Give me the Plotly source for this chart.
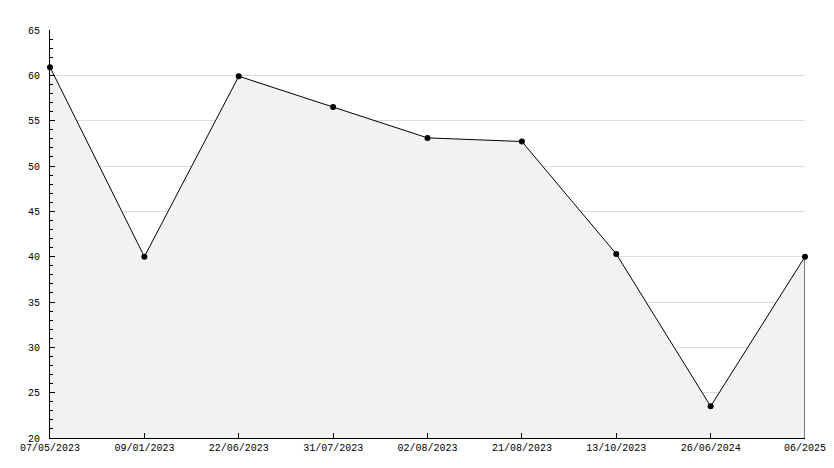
import plotly.graph_objects as go

categories = ["07/05/2023", "09/01/2023", "22/06/2023", "31/07/2023", "02/08/2023",
              "21/08/2023", "13/10/2023", "26/06/2024", "06/2025"]
values = [60.9, 40.0, 59.9, 56.5, 53.1, 52.7, 40.3, 23.5, 40.0]
y_ticks = [20, 25, 30, 35, 40, 45, 50, 55, 60, 65]

xs = list(range(len(categories)))
font = dict(family="Liberation Mono", size=10, color="#000000")

fig = go.Figure()
fig.add_trace(go.Scatter(
    x=xs, y=values, mode="lines+markers", fill="tozeroy",
    fillcolor="#f2f2f2", line=dict(color="#000000", width=1),
    marker=dict(color="#000000", size=6, symbol="circle"),
    hoverinfo="skip", showlegend=False, cliponaxis=False,
))
# closing edge of the area at the last category
fig.add_trace(go.Scatter(
    x=[xs[-1], xs[-1]], y=[values[-1], y_ticks[0]], mode="lines",
    line=dict(color="#000000", width=1), hoverinfo="skip", showlegend=False,
))

fig.update_layout(
    width=834, height=468,
    margin=dict(l=50, r=29, t=30, b=30, autoexpand=False),
    paper_bgcolor="#ffffff", plot_bgcolor="#ffffff",
    font=font,
)
fig.update_xaxes(
    range=[xs[0], xs[-1]], tickvals=xs, ticktext=categories, automargin=False,
    showgrid=False, zeroline=False, showline=True, linecolor="#000000", linewidth=1,
    ticks="inside", ticklen=5, tickcolor="#000000", tickfont=font,
)
fig.update_yaxes(
    range=[y_ticks[0], y_ticks[-1]], tickvals=y_ticks, automargin=False,
    showgrid=True, gridcolor="#dddddd", gridwidth=1, zeroline=False,
    showline=True, linecolor="#000000", linewidth=1,
    ticks="inside", ticklen=5, tickcolor="#000000", tickfont=font,
    ticklabelstandoff=7,
    minor=dict(dtick=1, ticks="inside", ticklen=3, tickcolor="#000000", showgrid=False),
)
fig.write_html(
    "out.html",
    config={"displayModeBar": False, "staticPlot": True},
    post_script="document.body.style.margin='0';document.body.style.overflow='hidden';",
)
